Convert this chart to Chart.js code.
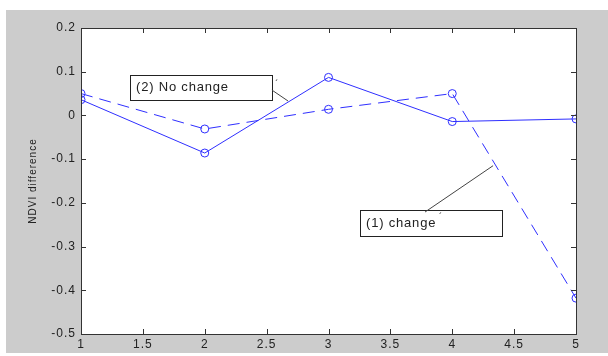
<!DOCTYPE html>
<html><head><meta charset="utf-8">
<script src="https://cdn.jsdelivr.net/npm/chart.js@4"></script>
<style>html,body{margin:0;padding:0;background:#fff}#wrap{width:608px;height:356px}</style>
</head><body><div id="wrap"><canvas id="c" width="608" height="356"></canvas></div>
<script>
const xValues = [1, 2, 3, 4, 5];
const changeValues = [0.036, -0.086, 0.087, -0.014, -0.008];
const noChangeValues = [0.050, -0.031, 0.014, 0.050, -0.418];
const yTicks = [-0.5, -0.4, -0.3, -0.2, -0.1, 0, 0.1, 0.2];
const xTicks = [1, 1.5, 2, 2.5, 3, 3.5, 4, 4.5, 5];
const yTitle = 'NDVI difference';
const notes = [
  {text: '(2) No change', box: [1.396, 0.092, 2.543, 0.035], line: [2.543, 0.058, 2.673, 0.033], mark: [2.57, 0.072]},
  {text: '(1) change', box: [3.255, -0.2165, 4.402, -0.276], line: [3.78, -0.221, 4.33, -0.115], mark: [3.893, -0.232]}
];

const BLUE = '#2f2fff';
const AX = '#333333';

const frame = {
  id: 'frame',
  beforeDraw(chart) {
    const ctx = chart.ctx, a = chart.chartArea;
    ctx.save();
    ctx.fillStyle = '#cccccc';
    ctx.fillRect(6, 10, 602, 343);
    ctx.fillStyle = '#ffffff';
    ctx.fillRect(a.left, a.top, a.right - a.left, a.bottom - a.top);
    ctx.restore();
    ctx.letterSpacing = '1px';
  },
  afterDatasetsDraw(chart) {
    const ctx = chart.ctx, a = chart.chartArea;
    const xs = chart.scales.x, ys = chart.scales.y;
    ctx.save();
    ctx.strokeStyle = AX; ctx.lineWidth = 1;
    ctx.strokeRect(a.left + 0.5, a.top + 0.5, a.right - a.left, a.bottom - a.top);
    const L = 5;
    ctx.beginPath();
    xTicks.forEach(v => {
      const px = Math.round(xs.getPixelForValue(v)) + 0.5;
      ctx.moveTo(px, a.bottom); ctx.lineTo(px, a.bottom - L);
      ctx.moveTo(px, a.top); ctx.lineTo(px, a.top + L);
    });
    yTicks.forEach(v => {
      const py = Math.round(ys.getPixelForValue(v)) + 0.5;
      ctx.moveTo(a.left, py); ctx.lineTo(a.left + L, py);
      ctx.moveTo(a.right, py); ctx.lineTo(a.right - L, py);
    });
    ctx.stroke();
    // annotations
    ctx.letterSpacing = '0.8px';
    ctx.font = '13px "Liberation Sans", Arial, sans-serif';
    ctx.textBaseline = 'middle';
    notes.forEach(n => {
      const x1 = xs.getPixelForValue(n.box[0]), y1 = ys.getPixelForValue(n.box[1]);
      const x2 = xs.getPixelForValue(n.box[2]), y2 = ys.getPixelForValue(n.box[3]);
      ctx.fillStyle = '#fff';
      ctx.fillRect(x1, y1, x2 - x1, y2 - y1);
      ctx.strokeStyle = '#222'; ctx.lineWidth = 1;
      ctx.strokeRect(Math.round(x1) + 0.5, Math.round(y1) + 0.5, Math.round(x2 - x1), Math.round(y2 - y1));
      ctx.fillStyle = '#222';
      ctx.fillText(n.text, x1 + 6, (y1 + y2) / 2);
      ctx.strokeStyle = '#444';
      ctx.beginPath();
      ctx.moveTo(xs.getPixelForValue(n.line[0]), ys.getPixelForValue(n.line[1]));
      ctx.lineTo(xs.getPixelForValue(n.line[2]), ys.getPixelForValue(n.line[3]));
      ctx.stroke();
      ctx.font = '9px "Liberation Sans", Arial, sans-serif';
      ctx.fillText('´', xs.getPixelForValue(n.mark[0]), ys.getPixelForValue(n.mark[1]));
      ctx.font = '13px "Liberation Sans", Arial, sans-serif';
    });
    ctx.restore();
  }
};

new Chart(document.getElementById('c'), {
  type: 'line',
  data: {
    datasets: [
      {label: '(1) change', data: xValues.map((x, i) => ({x, y: changeValues[i]})),
       borderColor: BLUE, borderWidth: 1, pointStyle: 'circle', pointRadius: 4,
       pointBorderColor: BLUE, pointBackgroundColor: 'rgba(0,0,0,0)', pointBorderWidth: 1, tension: 0},
      {label: '(2) No change', data: xValues.map((x, i) => ({x, y: noChangeValues[i]})),
       borderColor: BLUE, borderWidth: 1, borderDash: [12, 7], pointStyle: 'circle', pointRadius: 4,
       pointBorderColor: BLUE, pointBackgroundColor: 'rgba(0,0,0,0)', pointBorderWidth: 1, tension: 0}
    ]
  },
  options: {
    responsive: false, animation: false,
    layout: {padding: {left: 6, right: 32, top: 28, bottom: 0}},
    plugins: {legend: {display: false}, tooltip: {enabled: false}},
    scales: {
      x: {type: 'linear', min: 1, max: 5,
          afterBuildTicks: s => { s.ticks = xTicks.map(v => ({value: v})); },
          afterFit: s => { s.height = 22; },
          grid: {display: false, drawTicks: false}, border: {display: false},
          ticks: {color: '#222', padding: 3, maxRotation: 0, autoSkip: false,
                  font: {family: '"Liberation Sans", Arial, sans-serif', size: 12},
                  callback: v => String(v)}},
      y: {type: 'linear', min: -0.5, max: 0.2,
          afterBuildTicks: s => { s.ticks = yTicks.map(v => ({value: v})); },
          afterFit: s => { s.width = 75; },
          grid: {display: false, drawTicks: false}, border: {display: false},
          title: {display: true, text: yTitle, color: '#222', padding: {top: 21, bottom: 0},
                  font: {family: '"Liberation Sans", Arial, sans-serif', size: 10}},
          ticks: {color: '#222', padding: 5, autoSkip: false,
                  font: {family: '"Liberation Sans", Arial, sans-serif', size: 12},
                  callback: v => String(+v.toFixed(1))}}
    }
  },
  plugins: [frame]
});
</script></body></html>
